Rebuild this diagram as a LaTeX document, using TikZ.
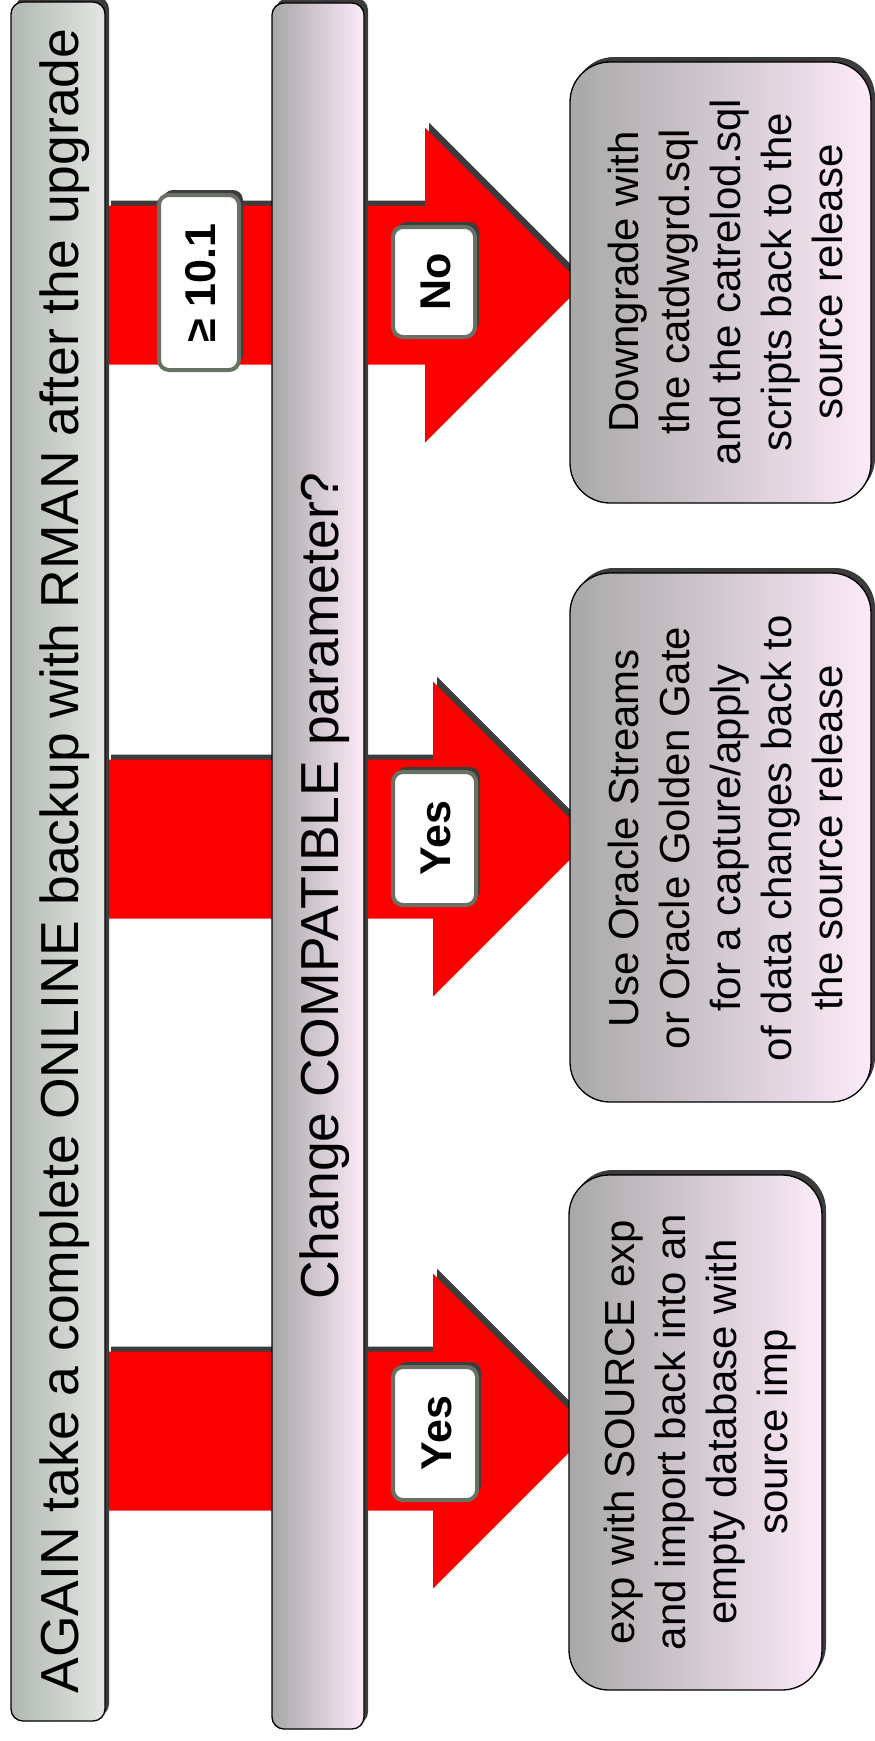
\documentclass[tikz,border=0pt]{standalone}
\usepackage{fontspec}
\setmainfont{Liberation Sans}
\definecolor{barAL}{RGB}{176,184,176}
\definecolor{barAR}{RGB}{228,230,228}
\definecolor{gL}{RGB}{168,168,168}
\definecolor{gM}{RGB}{232,232,232}
\definecolor{gR}{RGB}{252,234,248}
\definecolor{lblborder}{RGB}{104,114,100}
\definecolor{shadowgray}{RGB}{60,60,60}
\definecolor{arrowred}{RGB}{252,0,0}
\begin{document}
\begin{tikzpicture}[x=1pt,y=-1pt,
  shad/.style={fill=shadowgray, draw=none, xshift=4pt, yshift=5pt},
  redarrow/.style={fill=arrowred, draw=none},
  barone/.style={left color=barAL, right color=barAR, draw=black, line width=1.3pt, rounded corners=12pt},
  bartwo/.style={left color=gL, middle color=gM, right color=gR, draw=black, line width=1.3pt, rounded corners=12pt},
  resbox/.style={left color=gL, middle color=gM, right color=gR, draw=black, line width=1.3pt, rounded corners=40pt},
  lblbox/.style={fill=white, draw=lblborder, line width=4pt, rounded corners=10pt},
  bartext/.style={rotate=90, anchor=base, inner sep=0pt, font=\fontsize{53.5}{60}\selectfont},
  restext/.style={rotate=90, anchor=center, align=center, inner sep=0pt, font=\fontsize{42}{51}\selectfont},
  lbltext/.style={rotate=90, anchor=base, inner sep=0pt, font=\bfseries\fontsize{43}{48}\selectfont}
]
\useasboundingbox (0,0) rectangle (875,1741);

% ---- arrows (shadow, then red body)
\foreach \c/\b in {285/425, 839/433, 1431/433}{
  \pgfmathsetmacro{\sT}{\c-79.5}
  \pgfmathsetmacro{\sB}{\c+79.5}
  \pgfmathsetmacro{\hT}{\c-157.5}
  \pgfmathsetmacro{\hB}{\c+157.5}
  \pgfmathsetmacro{\tp}{\b+157.5}
  \fill[shad] (107,\sT) -- (\b,\sT) -- (\b,\hT) -- (\tp,\c) -- (\b,\hB) -- (\b,\sB) -- (107,\sB) -- cycle;
  \fill[redarrow] (107,\sT) -- (\b,\sT) -- (\b,\hT) -- (\tp,\c) -- (\b,\hB) -- (\b,\sB) -- (107,\sB) -- cycle;
}

% ---- bars
\fill[shad, rounded corners=12pt] (11,2) rectangle (105,1721);
\shadedraw[barone] (11,2) rectangle (105,1721);
\node[bartext] (again) at (78,861) {AGAIN take a complete ONLINE backup with RMAN after the upgrade};

\fill[shad, rounded corners=12pt] (272,3) rectangle (364,1729);
\shadedraw[bartwo] (272,3) rectangle (364,1729);
\node[bartext] (compat) at (338,886) {Change COMPATIBLE parameter?};

% ---- labels
\fill[shad, rounded corners=10pt] (159,195) rectangle (239,370);
\draw[lblbox] (159,195) rectangle (239,370);
\node[lbltext] (ge) at (215,283) {≥ 10.1};

\fill[shad, rounded corners=10pt] (393,227) rectangle (475,337);
\draw[lblbox] (393,227) rectangle (475,337);
\node[lbltext] (no) at (450,282) {No};

\fill[shad, rounded corners=10pt] (393,772) rectangle (476,905);
\draw[lblbox] (393,772) rectangle (476,905);
\node[lbltext] (yes1) at (450,838) {Yes};

\fill[shad, rounded corners=10pt] (393,1367) rectangle (477,1500);
\draw[lblbox] (393,1367) rectangle (477,1500);
\node[lbltext] (yes2) at (451,1433) {Yes};

% ---- result boxes
\fill[shad, rounded corners=40pt] (570,62) rectangle (871,503);
\shadedraw[resbox] (570,62) rectangle (871,503);
\node[restext] (down) at (725,282) {Downgrade with\\the catdwgrd.sql\\and the catrelod.sql\\scripts back to the\\source release};

\fill[shad, rounded corners=40pt] (570,573) rectangle (871,1102);
\shadedraw[resbox] (570,573) rectangle (871,1102);
\node[restext] (streams) at (725,838) {Use Oracle Streams\\or Oracle Golden Gate\\for a capture/apply\\of data changes back to\\the source release};

\fill[shad, rounded corners=40pt] (569,1175) rectangle (822,1690);
\shadedraw[resbox] (569,1175) rectangle (822,1690);
\node[restext] (exp) at (700,1432) {exp with SOURCE exp\\and import back into an\\empty database with\\source imp};
\end{tikzpicture}
\end{document}
